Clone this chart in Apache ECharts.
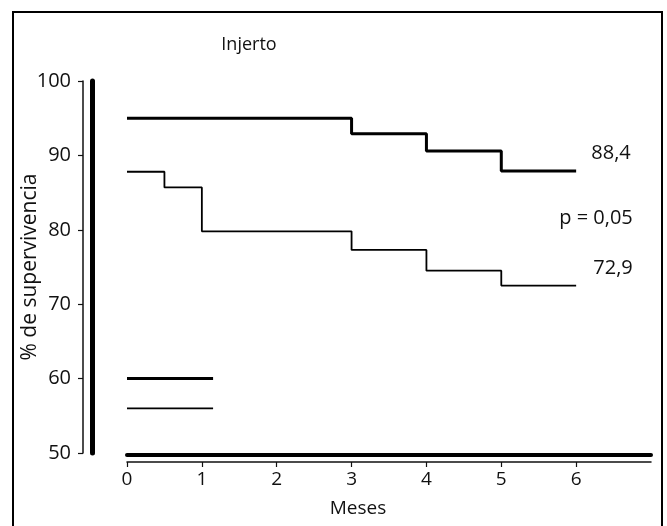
<!DOCTYPE html>
<html>
<head>
<meta charset="utf-8">
<script src="https://cdn.jsdelivr.net/npm/echarts@6/dist/echarts.min.js"></script>
<style>
html,body{margin:0;padding:0;background:#fff;}
#chart{width:667px;height:526px;}
</style>
</head>
<body>
<div id="chart"></div>
<script>
// Data
var titleText = 'Injerto';
var xTicks = [0, 1, 2, 3, 4, 5, 6];
var yTicks = [50, 60, 70, 80, 90, 100];
var upperCurve = [[0, 95], [3, 92.9], [4, 90.6], [5, 87.9], [6, 87.9]];
var lowerCurve = [[0, 87.8], [0.5, 85.7], [1, 79.8], [3, 77.3], [4, 74.5], [5, 72.5], [6, 72.5]];
var legendThick = [[0, 60], [1.15, 60]];
var legendThin = [[0, 56], [1.15, 56]];
var annUpper = '88,4';
var annP = 'p = 0,05';
var annLower = '72,9';

var FONT = 'Open Sans';
var chart = echarts.init(document.getElementById('chart'));
var opt = {
  backgroundColor: '#fff',
  animation: false,
  grid: {left: 127, right: 16, top: 81, bottom: 73, containLabel: false, outerBoundsMode: 'none'},
  xAxis: [{
    type: 'value', min: 0, max: 7, interval: 1, position: 'bottom', offset: 9,
    axisLine: {show: true, onZero: false, lineStyle: {color: '#111', width: 1.5}},
    axisTick: {show: true, length: 5, lineStyle: {color: '#111', width: 1.2},
      customValues: xTicks},
    axisLabel: {color: '#111', fontSize: 19, fontFamily: FONT, margin: 8,
      customValues: xTicks},
    splitLine: {show: false}
  }, {
    type: 'value', min: 0, max: 7, position: 'bottom', offset: 2,
    axisLine: {show: true, onZero: false, lineStyle: {color: '#000', width: 4}},
    axisTick: {show: false}, axisLabel: {show: false}, splitLine: {show: false}
  }],
  yAxis: [{
    type: 'value', min: 50, max: 100, interval: 10, position: 'left', offset: 44,
    name: '% de supervivencia', nameLocation: 'middle', nameGap: 42, nameMoveOverlap: false,
    nameTextStyle: {color: '#111', fontSize: 21, fontFamily: FONT},
    axisLine: {show: true, onZero: false, lineStyle: {color: '#111', width: 1.5}},
    axisTick: {show: true, length: 5, lineStyle: {color: '#111', width: 1.2},
      customValues: yTicks},
    axisLabel: {color: '#111', fontSize: 20, fontFamily: FONT, margin: 12,
      customValues: yTicks},
    splitLine: {show: false}
  }, {
    type: 'value', min: 50, max: 100, position: 'left', offset: 35,
    axisLine: {show: true, onZero: false, lineStyle: {color: '#000', width: 5}},
    axisTick: {show: false}, axisLabel: {show: false}, splitLine: {show: false}
  }],
  series: [
    {type: 'line', step: 'end', data: upperCurve, symbol: 'none',
      lineStyle: {color: '#000', width: 3}},
    {type: 'line', step: 'end', data: lowerCurve, symbol: 'none',
      lineStyle: {color: '#000', width: 1.8}},
    {type: 'line', data: legendThick, symbol: 'none',
      lineStyle: {color: '#000', width: 3}},
    {type: 'line', data: legendThin, symbol: 'none',
      lineStyle: {color: '#000', width: 1.8}}
  ],
  graphic: [
    {type: 'rect', shape: {x: 13, y: 12, width: 649, height: 530},
      style: {fill: 'none', stroke: '#000', lineWidth: 2}, z: 0},
    {type: 'text', x: 249, y: 45, style: {text: titleText, fill: '#111', fontSize: 18,
      fontFamily: FONT, textAlign: 'center', textVerticalAlign: 'middle'}},
    {type: 'text', x: 358, y: 509, style: {text: 'Meses', fill: '#111', fontSize: 19,
      fontFamily: FONT, textAlign: 'center', textVerticalAlign: 'middle'}},
    {type: 'text', x: 611, y: 153, style: {text: annUpper, fill: '#111', fontSize: 20,
      fontFamily: FONT, textAlign: 'center', textVerticalAlign: 'middle'}},
    {type: 'text', x: 596, y: 218, style: {text: annP, fill: '#111', fontSize: 20,
      fontFamily: FONT, textAlign: 'center', textVerticalAlign: 'middle'}},
    {type: 'text', x: 613, y: 268, style: {text: annLower, fill: '#111', fontSize: 20,
      fontFamily: FONT, textAlign: 'center', textVerticalAlign: 'middle'}}
  ]
};
chart.setOption(opt);
</script>
</body>
</html>
